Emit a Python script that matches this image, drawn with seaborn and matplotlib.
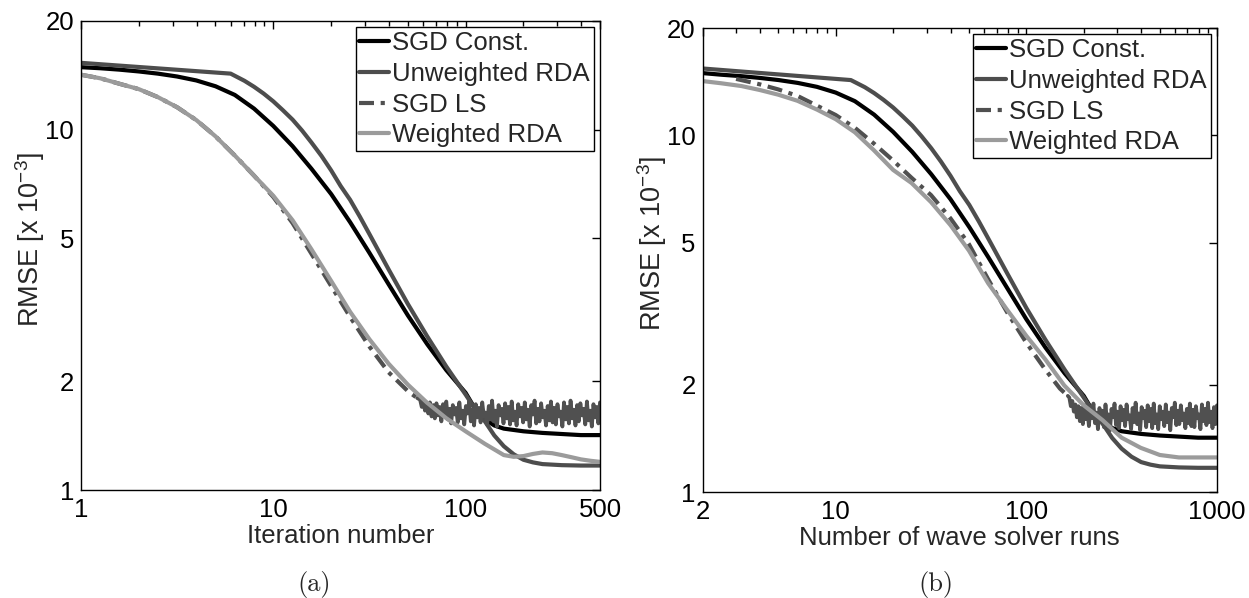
import numpy as np
import pandas as pd
import matplotlib
matplotlib.use("Agg")
import matplotlib.pyplot as plt
import seaborn as sns
from matplotlib.ticker import FixedLocator, FixedFormatter, LogLocator, NullFormatter, NullLocator

# ---------------- data (RMSE in units of 1e-3) ----------------
series_names = ["SGD Const.", "Unweighted RDA", "SGD LS", "Weighted RDA"]
series_colors = ["#000000", "#4d4d4d", "#505050", "#9b9b9b"]

# Panel (a): vs iteration number
a_const_x = [1, 1.26, 1.58, 2.0, 2.51, 3.16, 3.98, 5.01, 6.31, 7.94, 10, 12.6, 15.8, 20, 25.1, 31.6, 39.8,
             50.1, 63.1, 79.4, 100, 112, 126, 141, 158, 200, 251, 316, 398, 500]
a_const_y = [14.89, 14.79, 14.66, 14.49, 14.29, 14.03, 13.68, 13.18, 12.47, 11.43, 10.23, 8.99, 7.78, 6.62,
             5.53, 4.55, 3.72, 3.05, 2.54, 2.15, 1.86, 1.68, 1.57, 1.51, 1.48, 1.455, 1.44, 1.43, 1.42, 1.42]

a_unw_x = [1, 6.0, 7.08, 7.94, 8.91, 10, 11.2, 12.6, 14.1, 15.8, 17.8, 20, 22.4, 25.1, 28.2, 31.6, 39.8, 50.1,
           63.1, 79.4, 100, 112, 126, 141, 158, 178, 200, 224, 251, 316, 398, 500]
a_unw_y = [15.31, 14.29, 13.65, 13.14, 12.58, 11.97, 11.32, 10.65, 9.94, 9.20, 8.45, 7.70, 6.97, 6.38, 5.73,
           5.13, 4.09, 3.28, 2.67, 2.20, 1.84, 1.68, 1.55, 1.417, 1.323, 1.256, 1.213, 1.193, 1.180, 1.172,
           1.169, 1.169]

a_ls_x = [1, 1.26, 1.58, 2.0, 2.51, 3.16, 3.98, 5.01, 6.31, 7.94, 10, 12.6, 15.8, 20, 25.1, 31.6, 39.8, 50.1, 56]
a_ls_y = [14.19, 13.87, 13.40, 12.94, 12.30, 11.53, 10.62, 9.57, 8.47, 7.45, 6.50, 5.50, 4.52, 3.68, 3.02,
          2.50, 2.12, 1.88, 1.80]
# noisy plateau of SGD LS, iterations ~58..500
a_ls_noise = [1.78, 1.70, 1.76, 1.66, 1.74, 1.63, 1.75, 1.60, 1.72, 1.58, 1.74, 1.61, 1.70, 1.55, 1.73, 1.60,
              1.76, 1.57, 1.68, 1.53, 1.72, 1.62, 1.69, 1.54, 1.75, 1.58, 1.66, 1.52, 1.71, 1.63, 1.76, 1.55,
              1.67, 1.51, 1.73, 1.59, 1.69, 1.54, 1.75, 1.60, 1.64, 1.52, 1.71, 1.57, 1.77, 1.55, 1.66, 1.50,
              1.72, 1.61, 1.68, 1.53, 1.74, 1.58, 1.70, 1.52, 1.76, 1.56, 1.65, 1.51, 1.73, 1.60, 1.69, 1.54,
              1.75, 1.57, 1.67, 1.50, 1.72, 1.62, 1.77, 1.53, 1.68, 1.55, 1.74, 1.59, 1.66, 1.51, 1.71, 1.56,
              1.76, 1.54, 1.69, 1.52, 1.73, 1.60, 1.65, 1.50, 1.75, 1.57, 1.70, 1.53, 1.77, 1.58, 1.67, 1.51,
              1.72, 1.55, 1.74, 1.61, 1.68, 1.52, 1.76, 1.56, 1.66, 1.50, 1.73, 1.59, 1.70, 1.53, 1.75]

a_w_x = [1, 1.26, 1.58, 2.0, 2.51, 3.16, 3.98, 5.01, 6.31, 7.94, 10, 12.6, 15.8, 20, 25.1, 31.6, 39.8, 50.1,
         63.1, 79.4, 100, 126, 158, 178, 200, 224, 251, 282, 316, 355, 398, 447, 500]
a_w_y = [14.19, 13.87, 13.40, 12.94, 12.30, 11.53, 10.62, 9.57, 8.47, 7.45, 6.55, 5.60, 4.65, 3.80, 3.12,
         2.62, 2.24, 1.96, 1.746, 1.581, 1.455, 1.343, 1.250, 1.236, 1.242, 1.259, 1.271, 1.265, 1.250,
         1.233, 1.216, 1.205, 1.197]

# Panel (b): vs number of wave solver runs
b_const_x = [2, 2.52, 3.17, 4, 5.02, 6.32, 7.96, 10, 12.6, 15.9, 20, 25.2, 31.7, 40, 50.2, 63.2, 79.6, 100,
             126, 159, 200, 224, 252, 283, 317, 400, 502, 632, 796, 1000]
b_const_y = [14.95, 14.79, 14.66, 14.49, 14.29, 14.03, 13.68, 13.18, 12.47, 11.43, 10.23, 8.99, 7.78, 6.62,
             5.53, 4.55, 3.72, 3.05, 2.54, 2.15, 1.86, 1.68, 1.57, 1.51, 1.48, 1.455, 1.44, 1.43, 1.42, 1.42]

b_unw_x = [2, 12, 14.2, 15.9, 17.8, 20, 22.4, 25.2, 28.2, 31.7, 35.6, 40, 44.8, 50.2, 56.4, 63.2, 79.6, 100,
           126, 159, 200, 224, 252, 282, 316, 356, 400, 448, 502, 632, 796, 1000]
b_unw_y = [15.4, 14.29, 13.65, 13.14, 12.58, 11.97, 11.32, 10.65, 9.94, 9.20, 8.45, 7.70, 6.97, 6.38, 5.73,
           5.13, 4.09, 3.28, 2.67, 2.20, 1.84, 1.68, 1.55, 1.417, 1.323, 1.256, 1.213, 1.193, 1.180, 1.172,
           1.169, 1.169]

b_ls_x = [3, 4, 5, 6.3, 8, 10, 12.6, 15.8, 20, 25, 31.6, 40, 50, 63, 79, 100, 126, 150, 165]
b_ls_y = [14.4, 13.9, 13.45, 12.9, 12.1, 11.4, 10.5, 9.5, 8.5, 7.6, 6.8, 5.85, 4.95, 3.95, 3.2, 2.62, 2.2,
          1.95, 1.86]
b_ls_noise = [1.84, 1.74, 1.80, 1.68, 1.76, 1.62, 1.74, 1.58, 1.72, 1.55, 1.75, 1.60, 1.70, 1.53, 1.73, 1.61,
              1.77, 1.56, 1.67, 1.50, 1.72, 1.63, 1.69, 1.52, 1.76, 1.58, 1.65, 1.49, 1.71, 1.62, 1.77, 1.54,
              1.68, 1.51, 1.74, 1.59, 1.70, 1.53, 1.76, 1.60, 1.64, 1.50, 1.72, 1.57, 1.78, 1.55, 1.66, 1.49,
              1.73, 1.61, 1.69, 1.52, 1.75, 1.58, 1.71, 1.51, 1.77, 1.56, 1.65, 1.50, 1.74, 1.60, 1.68, 1.53,
              1.76, 1.57, 1.67, 1.49, 1.72, 1.62, 1.78, 1.54, 1.69, 1.55, 1.75, 1.59, 1.66, 1.51, 1.71, 1.56,
              1.77, 1.53, 1.70, 1.52, 1.74, 1.61, 1.65, 1.50, 1.76, 1.58, 1.71, 1.54, 1.78, 1.57, 1.68, 1.51,
              1.73, 1.55, 1.75]

b_w_x = [2, 2.5, 3.2, 4, 5, 6.3, 8, 10, 12.6, 15.8, 20, 25, 31.6, 40, 50, 63, 79, 100, 126, 158, 200, 251,
         316, 398, 501, 631, 794, 1000]
b_w_y = [14.2, 14.0, 13.75, 13.4, 13.0, 12.5, 11.8, 11.1, 10.2, 9.1, 8.0, 7.35, 6.5, 5.6, 4.75, 3.85, 3.25,
         2.74, 2.35, 1.99, 1.75, 1.59, 1.42, 1.33, 1.27, 1.25, 1.25, 1.25]

x_labels = ["Iteration number", "Number of wave solver runs"]
x_ticks = [[1, 10, 100, 500], [2, 10, 100, 1000]]
y_ticks = [1, 2, 5, 10, 20]
captions = ["(a)", "(b)"]

# ---------------- build long table ----------------
def frame(panel, name, part, xs, ys):
    return pd.DataFrame({"panel": panel, "series": name, "part": part,
                         "x": np.asarray(xs, float), "y": np.asarray(ys, float)})

a_noise_x = np.geomspace(58, 500, len(a_ls_noise))
b_noise_x = np.geomspace(168, 1000, len(b_ls_noise))

df = pd.concat([
    frame("a", series_names[0], "main", a_const_x, a_const_y),
    frame("a", series_names[1], "main", a_unw_x, a_unw_y),
    frame("a", series_names[2], "main", a_ls_x, a_ls_y),
    frame("a", series_names[2], "noise", [a_ls_x[-1]] + list(a_noise_x), [a_ls_y[-1]] + a_ls_noise),
    frame("a", series_names[3], "main", a_w_x, a_w_y),
    frame("b", series_names[0], "main", b_const_x, b_const_y),
    frame("b", series_names[1], "main", b_unw_x, b_unw_y),
    frame("b", series_names[2], "main", b_ls_x, b_ls_y),
    frame("b", series_names[2], "noise", [b_ls_x[-1]] + list(b_noise_x), [b_ls_y[-1]] + b_ls_noise),
    frame("b", series_names[3], "main", b_w_x, b_w_y),
], ignore_index=True)

# ---------------- style ----------------
sns.set_theme(style="white")
plt.rcParams["font.family"] = ["Liberation Sans", "DejaVu Sans"]
plt.rcParams["mathtext.fontset"] = "custom"
plt.rcParams["mathtext.rm"] = "Liberation Sans"
plt.rcParams["mathtext.it"] = "Liberation Sans:italic"
plt.rcParams["mathtext.bf"] = "Liberation Sans:bold"
plt.rcParams["axes.linewidth"] = 1.0

FS = 18.5
fig = plt.figure(figsize=(12.49, 5.98), dpi=100)
ax_a = fig.add_axes([81 / 1249, 1 - 490 / 598, (600 - 81) / 1249, (490 - 21) / 598])
ax_b = fig.add_axes([702.5 / 1249, 1 - 492 / 598, (1217 - 702.5) / 1249, (492 - 28) / 598])

dashdot = (0, (3.6, 1.6, 1.0, 1.6))

for ax, panel, xl, xt, xlim, cap, capx in [
    (ax_a, "a", x_labels[0], x_ticks[0], (1, 500), captions[0], 314 / 1249),
    (ax_b, "b", x_labels[1], x_ticks[1], (2, 1000), captions[1], 936 / 1249),
]:
    sub = df[df.panel == panel]
    handles = []
    for name, col in zip(series_names, series_colors):
        d = sub[(sub.series == name) & (sub.part == "main")]
        sns.lineplot(data=d, x="x", y="y", ax=ax, color=col, linewidth=3, estimator=None,
                     sort=False, legend=False)
        ln = ax.lines[-1]
        ln.set_solid_joinstyle("round")
        if name == "SGD LS":
            ln.set_linestyle(dashdot)
            dn = sub[(sub.series == name) & (sub.part == "noise")]
            sns.lineplot(data=dn, x="x", y="y", ax=ax, color=col, linewidth=2.7, estimator=None,
                         sort=False, legend=False)
        ln.set_label(name)
        handles.append(ln)
    ax.set_xscale("log")
    ax.set_yscale("log")
    ax.set_xlim(*xlim)
    ax.set_ylim(1, 20)
    ax.xaxis.set_major_locator(FixedLocator(xt))
    ax.xaxis.set_major_formatter(FixedFormatter([str(v) for v in xt]))
    ax.xaxis.set_minor_locator(LogLocator(base=10, subs=range(2, 10), numticks=20))
    ax.xaxis.set_minor_formatter(NullFormatter())
    ax.yaxis.set_major_locator(FixedLocator(y_ticks))
    ax.yaxis.set_major_formatter(FixedFormatter([str(v) for v in y_ticks]))
    ax.yaxis.set_minor_locator(NullLocator())
    ax.tick_params(which="both", direction="in", top=True, right=True, width=1.0, colors="black",
                   labelsize=FS)
    ax.tick_params(which="major", length=6)
    ax.tick_params(which="minor", length=3.5)
    ax.tick_params(axis="x", pad=6)
    ax.tick_params(axis="y", pad=5)
    for s in ax.spines.values():
        s.set_color("black")
        s.set_linewidth(1.0)
    ax.set_xlabel(xl, fontsize=FS, labelpad=1)
    ax.set_ylabel("RMSE [x 10$^{-3}$]", fontsize=19.5)
    ax.yaxis.set_label_coords(-0.066, 0.535)
    leg = ax.legend(handles=handles, labels=series_names, loc="upper right", fontsize=FS, frameon=True,
                    fancybox=False, edgecolor="black", framealpha=1, handlelength=1.15,
                    handletextpad=0.12, borderpad=0.15, labelspacing=0.26, borderaxespad=0.25)
    leg.get_frame().set_linewidth(1.0)
    fig.text(capx, 1 - 585 / 598, cap, ha="center", va="center", fontsize=19, family="cmr10")

fig.savefig("out.png", dpi=100, facecolor="white")
